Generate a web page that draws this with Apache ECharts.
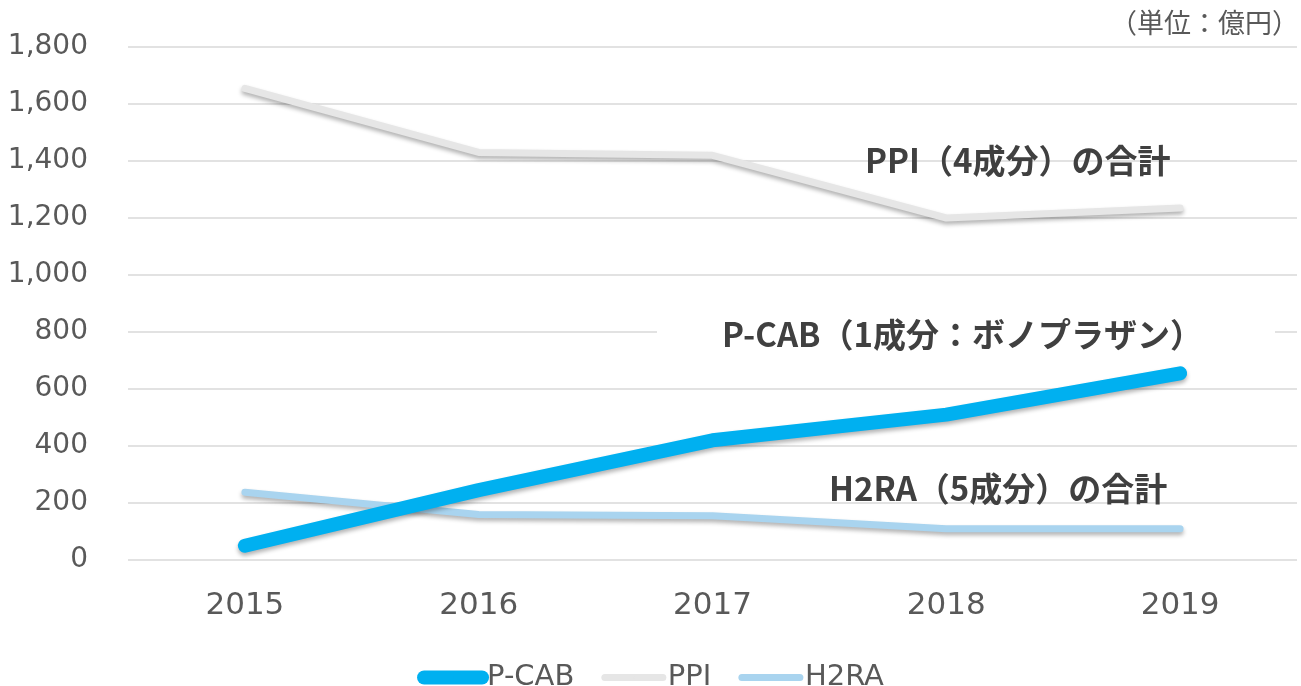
<!DOCTYPE html>
<html>
<head>
<meta charset="utf-8">
<script src="https://cdn.jsdelivr.net/npm/echarts@6/dist/echarts.min.js"></script>
<style>
  html, body { margin: 0; padding: 0; background: #fff; }
  #chart { width: 1301px; height: 686px; }
</style>
</head>
<body>
<div id="chart"></div>
<script>
// data (単位：億円)
var years = ['2015', '2016', '2017', '2018', '2019'];
var pcab = [50, 245, 420, 510, 655];
var ppi = [1655, 1430, 1420, 1200, 1235];
var h2ra = [238, 160, 155, 110, 110];

var latin = "'DejaVu Sans', 'Noto Sans CJK JP', sans-serif";
var jp = "'Noto Sans CJK JP', sans-serif";
var shadow = {shadowBlur: 4, shadowColor: 'rgba(0,0,0,0.3)', shadowOffsetY: 3};

var chart = echarts.init(document.getElementById('chart'));
chart.setOption({
  animation: false,
  grid: {left: 128, right: 4, top: 47, bottom: 126},
  xAxis: {
    type: 'category',
    data: years,
    boundaryGap: true,
    axisLine: {show: false},
    axisTick: {show: false},
    axisLabel: {color: '#595959', fontSize: 31, fontFamily: latin, margin: 30}
  },
  yAxis: {
    type: 'value',
    min: 0,
    max: 1800,
    interval: 200,
    axisLine: {show: false},
    axisTick: {show: false},
    splitLine: {lineStyle: {color: '#d9d9d9', width: 1.5}},
    axisLabel: {
      color: '#595959', fontSize: 28, fontFamily: latin, margin: 40,
      formatter: function (v) { return v.toLocaleString('en-US'); }
    }
  },
  legend: {
    top: 658,
    left: 'center',
    itemWidth: 58,
    itemHeight: 2, // keeps the legend symbol hidden under the line
    itemGap: 27,
    textStyle: {color: '#595959', fontSize: 29, fontFamily: latin},
    data: [
      {name: 'P-CAB', lineStyle: {width: 14, cap: 'round'}},
      {name: 'PPI', lineStyle: {width: 7, cap: 'round'}},
      {name: 'H2RA', lineStyle: {width: 7, cap: 'round'}}
    ]
  },
  series: [
    {
      name: 'PPI', type: 'line', data: ppi, symbol: 'none', z: 2,
      lineStyle: Object.assign({color: '#e6e6e6', width: 7, cap: 'round', join: 'round'}, shadow),
      itemStyle: {color: '#e6e6e6'}
    },
    {
      name: 'H2RA', type: 'line', data: h2ra, symbol: 'none', z: 3,
      lineStyle: Object.assign({color: '#a9d4ef', width: 7, cap: 'round', join: 'round'}, shadow),
      itemStyle: {color: '#a9d4ef'}
    },
    {
      name: 'P-CAB', type: 'line', data: pcab, symbol: 'none', z: 4,
      lineStyle: Object.assign({color: '#00b0f0', width: 14, cap: 'round', join: 'round'}, shadow),
      itemStyle: {color: '#00b0f0'}
    }
  ],
  graphic: [
    {
      type: 'text', right: 2, top: 9, z: 10,
      style: {text: '（単位：億円）', fill: '#595959', font: '27px ' + jp}
    },
    {
      type: 'text', left: 865, top: 144, z: 10,
      style: {text: 'PPI（4成分）の合計', fill: '#404040', font: 'bold 33px ' + jp}
    },
    {
      type: 'text', left: 657, top: 316, z: 10,
      style: {
        text: 'P-CAB（1成分：ボノプラザン）', fill: '#404040', font: 'bold 33px ' + jp,
        backgroundColor: '#fff', padding: [2, 72, 2, 65]
      }
    },
    {
      type: 'text', left: 829, top: 472, z: 10,
      style: {text: 'H2RA（5成分）の合計', fill: '#404040', font: 'bold 33px ' + jp}
    }
  ]
});
</script>
</body>
</html>
